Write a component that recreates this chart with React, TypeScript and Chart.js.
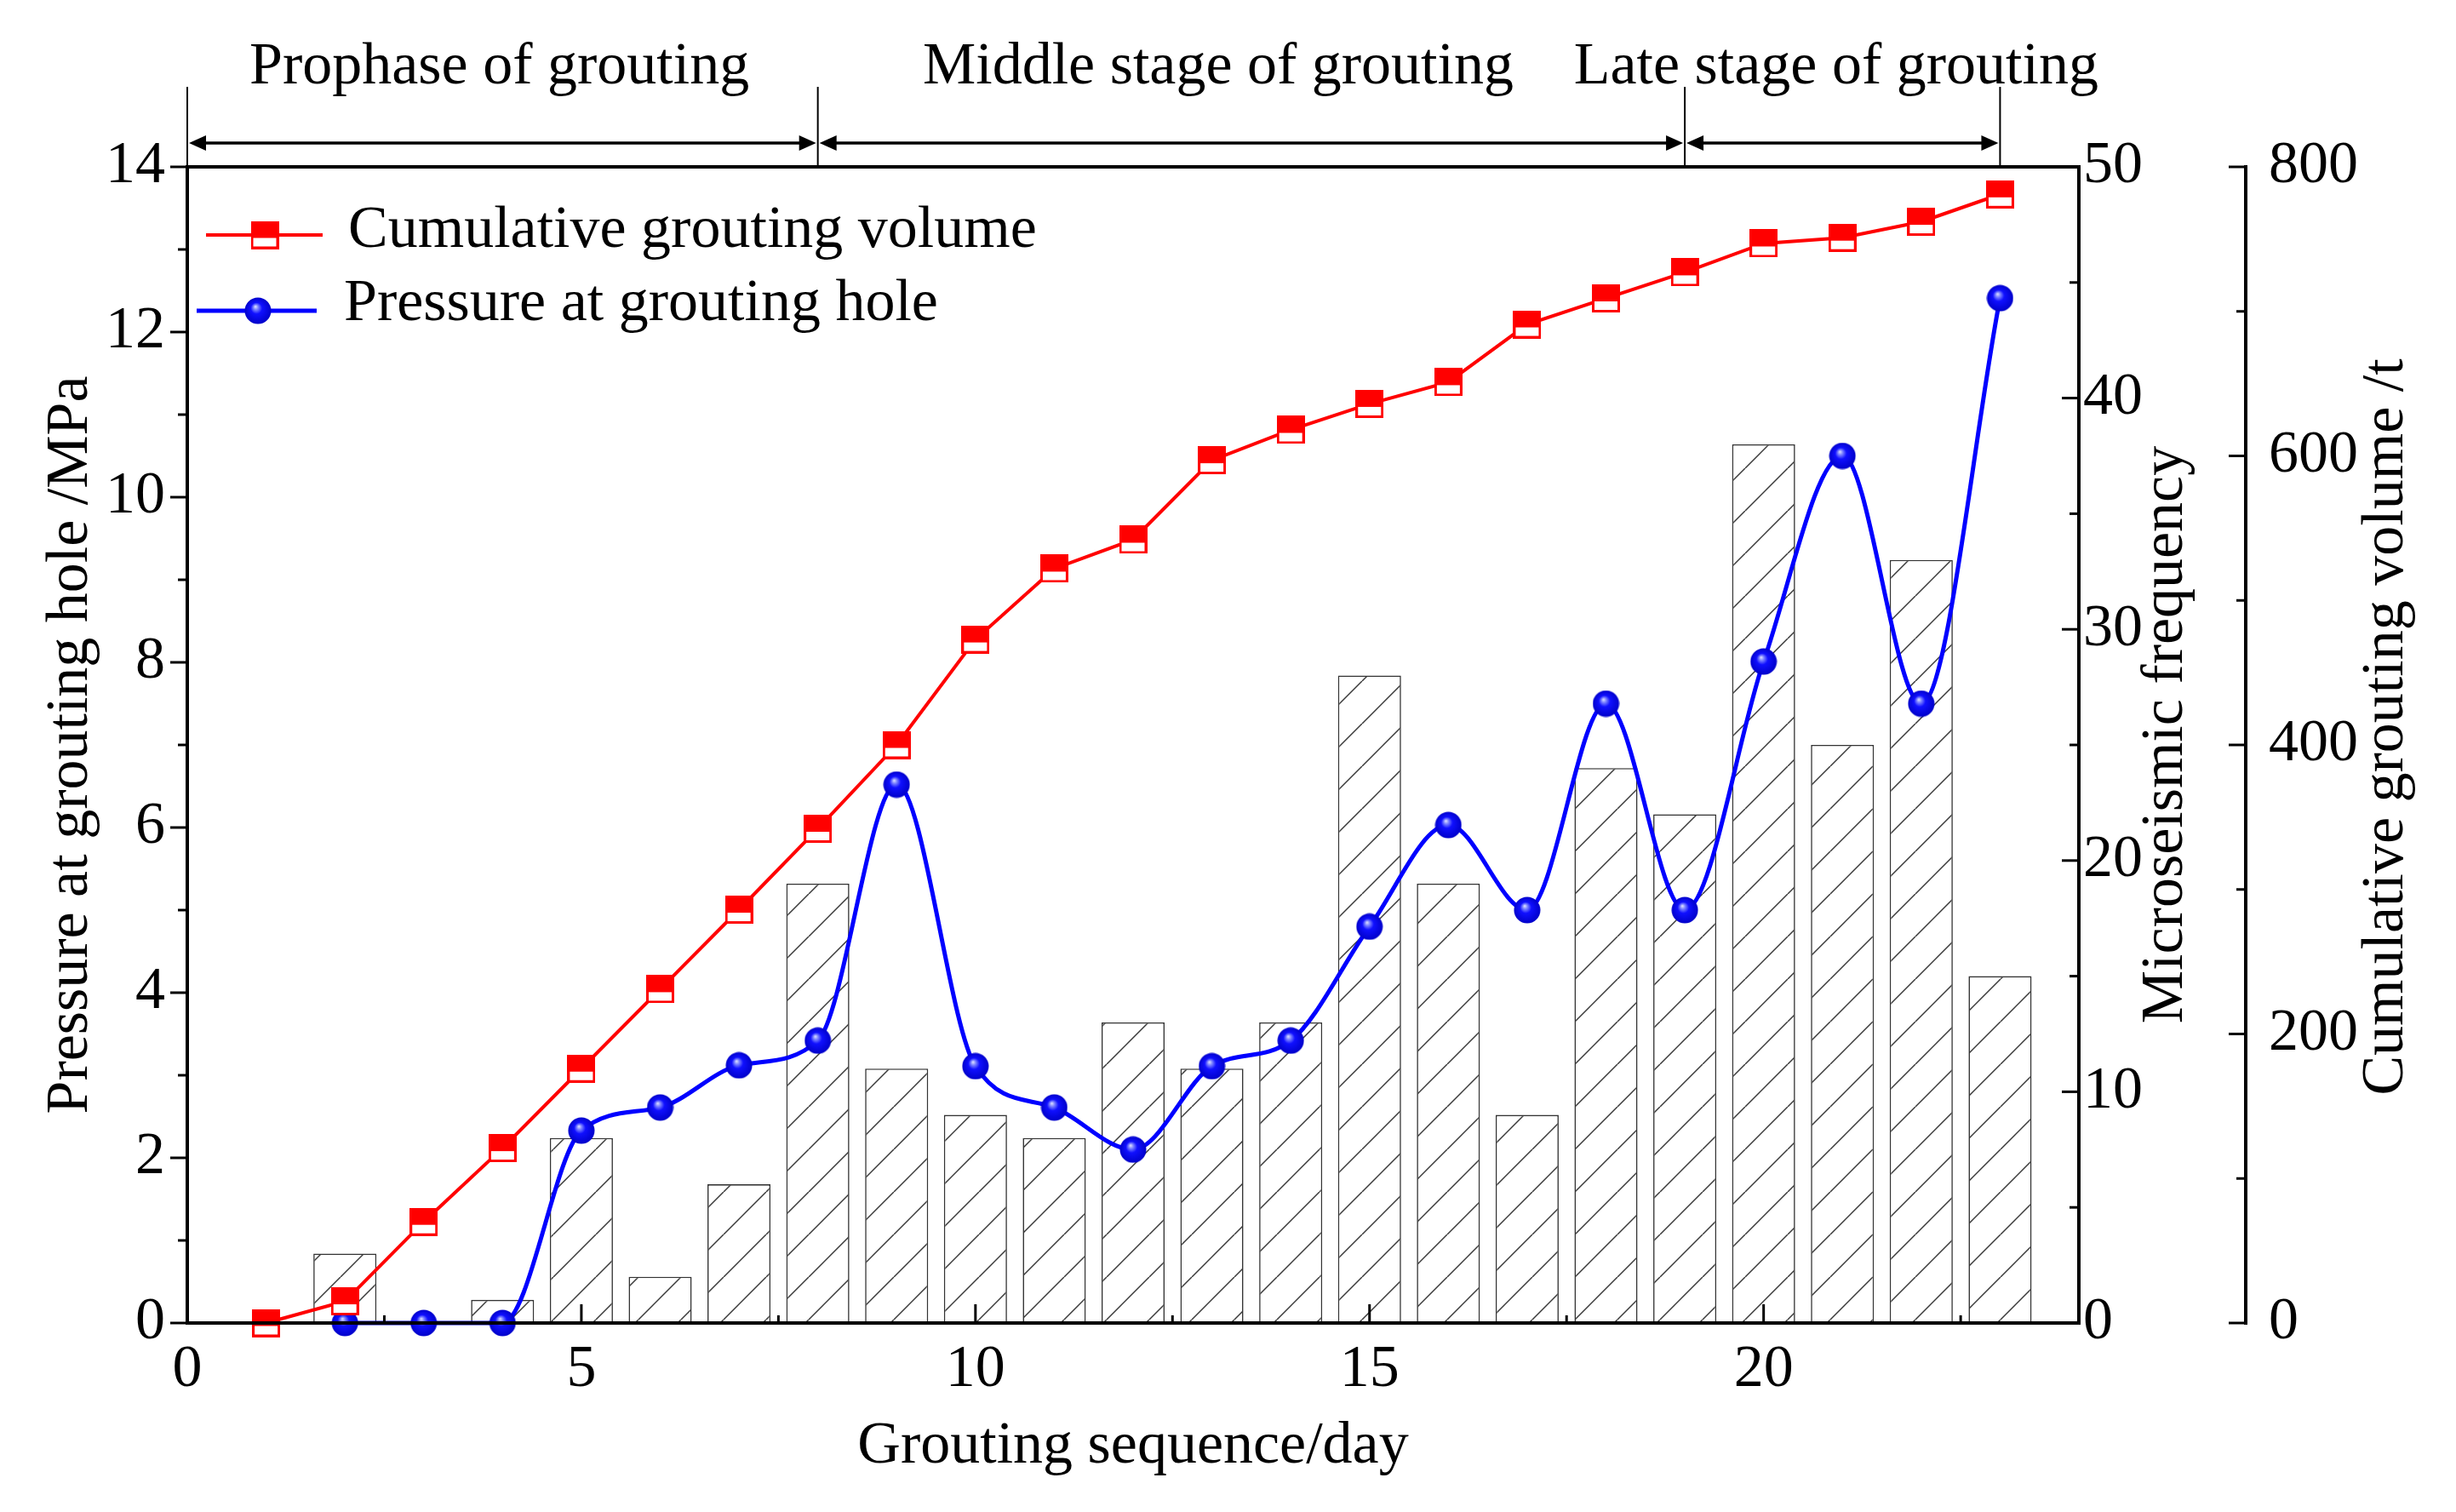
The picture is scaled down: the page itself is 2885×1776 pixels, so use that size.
import React, { useEffect, useRef } from 'react';
import { Chart, registerables } from 'chart.js';

Chart.register(...registerables);

const FONT = "'Times New Roman', 'Liberation Serif', serif";

// ---- data ----
const days = [1, 2, 3, 4, 5, 6, 7, 8, 9, 10, 11, 12, 13, 14, 15, 16, 17, 18, 19, 20, 21, 22, 23];
const pressureMPa = [null, 0, 0, 0, 2.33, 2.61, 3.12, 3.42, 6.52, 3.11, 2.61, 2.1, 3.11, 3.42, 4.8, 6.03, 5.0, 7.5, 5.0, 8.01, 10.5, 7.5, 12.41];
const cumulativeVolumeT = [0, 15, 70, 121, 176, 231, 286, 342, 400, 473, 522, 542, 597, 618, 636, 651, 691, 709, 727, 747, 751, 762, 781];
const microseismicFreq = [0, 3, 0, 1, 8, 2, 6, 19, 11, 9, 8, 13, 11, 13, 28, 19, 9, 24, 22, 38, 25, 33, 15];

// ---- ticks ----
const xTicks = [0, 5, 10, 15, 20];
const xMinor = [2.5, 7.5, 12.5, 17.5, 22.5];
const pressureTicks = [0, 2, 4, 6, 8, 10, 12, 14];
const pressureMinor = [1, 3, 5, 7, 9, 11, 13];
const freqTicks = [0, 10, 20, 30, 40, 50];
const freqMinor = [5, 15, 25, 35, 45];
const volumeTicks = [0, 200, 400, 600, 800];
const volumeMinor = [100, 300, 500, 700];

// ---- stage annotations ----
const stageNames = ['Prophase of grouting', 'Middle stage of grouting', 'Late stage of grouting'];
const stageStart = [0, 8, 19];
const stageEnd = [8, 19, 23];
const stageLabelAt = [3.96, 13.08, 20.92];

const legendLabels = ['Cumulative grouting volume', 'Pressure at grouting hole'];

function makeHatch(): CanvasPattern | string {
  const w = 50, h = 50;
  const c = document.createElement('canvas');
  c.width = w; c.height = h;
  const g = c.getContext('2d');
  if (!g) return '#fff';
  g.fillStyle = '#ffffff';
  g.fillRect(0, 0, w, h);
  g.strokeStyle = '#3a3a3a';
  g.lineWidth = 1.5;
  for (const off of [-h, 0, h]) {
    g.beginPath();
    g.moveTo(0, h + off);
    g.lineTo(w, off);
    g.stroke();
  }
  return g.createPattern(c, 'repeat') || '#fff';
}

function makeRedMarker(): HTMLCanvasElement {
  const s = 33;
  const c = document.createElement('canvas');
  c.width = s; c.height = s;
  const g = c.getContext('2d')!;
  g.fillStyle = '#ff0000';
  g.fillRect(0, 0, s, s);
  g.fillStyle = '#ffffff';
  g.fillRect(3, 20, s - 6, s - 23);
  return c;
}

function makeBlueMarker(): HTMLCanvasElement {
  const s = 32;
  const c = document.createElement('canvas');
  c.width = s; c.height = s;
  const g = c.getContext('2d')!;
  const grad = g.createRadialGradient(13, 11, 0, 16, 16, 16);
  grad.addColorStop(0, '#e6e9ff');
  grad.addColorStop(0.18, '#7d84ff');
  grad.addColorStop(0.42, '#1010ff');
  grad.addColorStop(1, '#0000c8');
  g.fillStyle = grad;
  g.beginPath();
  g.arc(16, 16, 15.5, 0, Math.PI * 2);
  g.fill();
  return c;
}

function line(ctx: CanvasRenderingContext2D, x1: number, y1: number, x2: number, y2: number) {
  ctx.beginPath();
  ctx.moveTo(x1, y1);
  ctx.lineTo(x2, y2);
  ctx.stroke();
}

function arrowHead(ctx: CanvasRenderingContext2D, tipX: number, y: number, dir: number) {
  const len = 20, half = 9;
  ctx.beginPath();
  ctx.moveTo(tipX, y);
  ctx.lineTo(tipX - dir * len, y - half);
  ctx.lineTo(tipX - dir * len, y + half);
  ctx.closePath();
  ctx.fill();
}

export default function App() {
  const ref = useRef<HTMLCanvasElement | null>(null);

  useEffect(() => {
    const canvas = ref.current;
    if (!canvas) return;
    const ctx = canvas.getContext('2d');
    if (!ctx) return;

    Chart.defaults.font.family = FONT;
    Chart.defaults.color = '#000';

    const hatch = makeHatch();
    const redMarker = makeRedMarker();
    const blueMarker = makeBlueMarker();

    const barData = days
      .map((d, i) => ({ x: d, y: microseismicFreq[i] }))
      .filter((p) => p.y > 0);
    const volumeData = days.map((d, i) => ({ x: d, y: cumulativeVolumeT[i] }));
    const pressureData = days
      .map((d, i) => ({ x: d, y: pressureMPa[i] }))
      .filter((p) => p.y !== null);

    const decor = {
      id: 'decor',
      afterDraw(chart: any) {
        const { ctx: c, chartArea: ca, scales } = chart;
        const sx = scales.x, sy = scales.y, sy1 = scales.y1, sy2 = scales.y2;
        c.save();
        c.strokeStyle = '#000';
        c.fillStyle = '#000';
        c.lineCap = 'butt';

        // frame
        c.lineWidth = 4;
        c.strokeRect(ca.left, ca.top, ca.right - ca.left, ca.bottom - ca.top);

        c.lineWidth = 3;
        // left axis ticks (outward)
        pressureTicks.forEach((v) => { const p = sy.getPixelForValue(v); line(c, ca.left - 20, p, ca.left, p); });
        pressureMinor.forEach((v) => { const p = sy.getPixelForValue(v); line(c, ca.left - 11, p, ca.left, p); });
        // bottom axis ticks (inward)
        xTicks.forEach((v) => { const p = sx.getPixelForValue(v); line(c, p, ca.bottom, p, ca.bottom - 22); });
        xMinor.forEach((v) => { const p = sx.getPixelForValue(v); line(c, p, ca.bottom, p, ca.bottom - 9); });
        // right axis (frequency) ticks (inward)
        freqTicks.forEach((v) => { const p = sy1.getPixelForValue(v); line(c, ca.right - 20, p, ca.right, p); });
        freqMinor.forEach((v) => { const p = sy1.getPixelForValue(v); line(c, ca.right - 11, p, ca.right, p); });
        // offset axis (volume)
        const ax = sy2.left;
        c.lineWidth = 4;
        line(c, ax, sy2.getPixelForValue(0) + 2, ax, sy2.getPixelForValue(800) - 2);
        c.lineWidth = 3;
        volumeTicks.forEach((v) => { const p = sy2.getPixelForValue(v); line(c, ax - 20, p, ax, p); });
        volumeMinor.forEach((v) => { const p = sy2.getPixelForValue(v); line(c, ax - 11, p, ax, p); });

        // right axis titles (rotated, reading upward)
        c.font = `70px ${FONT}`;
        c.textAlign = 'center';
        c.textBaseline = 'middle';
        const mid = (ca.top + ca.bottom) / 2;
        const rot = (text: string, x: number, y: number) => {
          c.save();
          c.translate(x, y);
          c.rotate(-Math.PI / 2);
          c.fillText(text, 0, 0);
          c.restore();
        };
        rot('Microseismic frequency', sy1.left + 103, mid - 12);
        rot('Cumulative grouting volume /t', sy2.left + 166, mid - 21);

        // stage annotations
        const arrowY = ca.top - 28;
        const boundTop = ca.top - 94;
        c.lineWidth = 2;
        const bounds = Array.from(new Set([...stageStart, ...stageEnd]));
        bounds.forEach((b) => { const p = sx.getPixelForValue(b); line(c, p, boundTop, p, ca.top); });
        stageNames.forEach((name, i) => {
          const a = sx.getPixelForValue(stageStart[i]);
          const b = sx.getPixelForValue(stageEnd[i]);
          c.lineWidth = 3.5;
          line(c, a + 12, arrowY, b - 12, arrowY);
          arrowHead(c, a + 2, arrowY, -1);
          arrowHead(c, b - 2, arrowY, 1);
          c.textAlign = 'center';
          c.textBaseline = 'alphabetic';
          c.fillText(name, sx.getPixelForValue(stageLabelAt[i]), ca.top - 98);
        });

        // legend
        const rows = [
          { label: legendLabels[0], color: '#ff0000', width: 4, marker: redMarker, l: 22, r: 159, m: 91, y: 80, tx: 189, ty: 76 },
          { label: legendLabels[1], color: '#0000ff', width: 5, marker: blueMarker, l: 11, r: 152, m: 83, y: 169, tx: 184, ty: 162 },
        ];
        rows.forEach((row) => {
          c.strokeStyle = row.color;
          c.lineWidth = row.width;
          line(c, ca.left + row.l, ca.top + row.y, ca.left + row.r, ca.top + row.y);
          c.drawImage(row.marker, ca.left + row.m - row.marker.width / 2, ca.top + row.y - row.marker.height / 2);
          c.fillStyle = '#000';
          c.textAlign = 'left';
          c.textBaseline = 'middle';
          c.fillText(row.label, ca.left + row.tx, ca.top + row.ty);
        });

        c.restore();
      },
    };

    const tickFont = { family: FONT, size: 70 };

    const chart = new Chart(ctx, {
      type: 'line',
      data: {
        datasets: [
          {
            type: 'bar',
            label: 'Microseismic frequency',
            data: barData as any,
            yAxisID: 'y1',
            xAxisID: 'x',
            backgroundColor: hatch as any,
            borderColor: '#333333',
            borderWidth: 1.6,
            borderSkipped: false,
            barPercentage: 0.8,
            categoryPercentage: 1.0,
            order: 3,
          } as any,
          {
            type: 'line',
            label: legendLabels[0],
            data: volumeData as any,
            yAxisID: 'y2',
            xAxisID: 'x',
            borderColor: '#ff0000',
            backgroundColor: '#ff0000',
            borderWidth: 4,
            tension: 0,
            pointStyle: redMarker as any,
            pointRadius: 16,
            clip: false as any,
            order: 1,
          } as any,
          {
            type: 'line',
            label: legendLabels[1],
            data: pressureData as any,
            yAxisID: 'y',
            xAxisID: 'x',
            borderColor: '#0000ff',
            backgroundColor: '#0000ff',
            borderWidth: 5,
            cubicInterpolationMode: 'monotone',
            pointStyle: blueMarker as any,
            pointRadius: 16,
            clip: false as any,
            order: 2,
          } as any,
        ],
      },
      options: {
        responsive: false,
        devicePixelRatio: 1,
        animation: false,
        events: [],
        layout: { padding: { top: 196, left: 0, right: 0, bottom: 0 } },
        plugins: { legend: { display: false }, tooltip: { enabled: false }, title: { display: false } },
        scales: {
          x: {
            type: 'linear',
            min: 0,
            max: 24,
            offset: false,
            grid: { display: false, drawTicks: false },
            border: { display: false },
            ticks: { font: tickFont, padding: 14, maxRotation: 0, autoSkip: false, color: '#000' },
            afterBuildTicks: (scale: any) => { scale.ticks = xTicks.map((v) => ({ value: v })); },
            afterFit: (scale: any) => { scale.height = 222; },
            title: { display: true, text: 'Grouting sequence/day', font: { family: FONT, size: 70 }, color: '#000', padding: { top: 0, bottom: 34 } },
          },
          y: {
            type: 'linear',
            position: 'left',
            min: 0,
            max: 14,
            grid: { display: false, drawTicks: false },
            border: { display: false },
            ticks: { font: tickFont, padding: 26, autoSkip: false, color: '#000' },
            afterBuildTicks: (scale: any) => { scale.ticks = pressureTicks.map((v) => ({ value: v })); },
            afterFit: (scale: any) => { scale.width = 220; },
            title: { display: true, text: 'Pressure at grouting hole /MPa', font: { family: FONT, size: 70 }, color: '#000', padding: { top: 42, bottom: 0 } },
          },
          y1: {
            type: 'linear',
            position: 'right',
            min: 0,
            max: 50,
            grid: { display: false, drawTicks: false },
            border: { display: false },
            ticks: { font: tickFont, padding: 5, autoSkip: false, color: '#000' },
            afterBuildTicks: (scale: any) => { scale.ticks = freqTicks.map((v) => ({ value: v })); },
            afterFit: (scale: any) => { scale.width = 196; },
            title: { display: false },
          },
          y2: {
            type: 'linear',
            position: 'right',
            min: 0,
            max: 800,
            grid: { display: false, drawTicks: false },
            border: { display: false },
            ticks: { font: tickFont, padding: 27, autoSkip: false, color: '#000' },
            afterBuildTicks: (scale: any) => { scale.ticks = volumeTicks.map((v) => ({ value: v })); },
            afterFit: (scale: any) => { scale.width = 247; },
            title: { display: false },
          },
        },
      } as any,
      plugins: [decor as any],
    });

    return () => chart.destroy();
  }, []);

  return (
    <div style={{ position: 'fixed', left: 0, top: 0, width: 2885, height: 1776, background: '#ffffff' }}>
      <canvas ref={ref} width={2885} height={1776} style={{ width: 2885, height: 1776, display: 'block' }} />
    </div>
  );
}
